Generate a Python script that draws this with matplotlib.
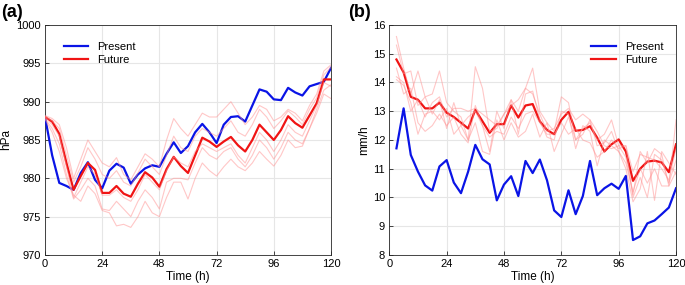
import matplotlib
matplotlib.use('Agg')
import matplotlib.pyplot as plt
import numpy as np

plt.rcParams['font.family'] = ['Liberation Sans', 'DejaVu Sans']
plt.rcParams['font.size'] = 8

# (a) central pressure, 3-hourly
time_a = np.arange(0, 121, 3)
pres_present = [988.0, 983.0, 979.4, 979.0, 978.5, 980.7, 982.1, 979.8, 978.7, 981.0,
                981.9, 981.4, 979.3, 980.5, 981.3, 981.7, 981.5, 983.2, 984.7, 983.3,
                984.2, 986.0, 987.1, 986.0, 984.6, 987.0, 988.0, 988.1, 987.4, 989.5,
                991.6, 991.3, 990.3, 990.2, 991.8, 991.2, 990.8, 992.0, 992.3, 992.6, 994.4]
pres_future = [988.0, 987.4, 985.8, 982.0, 978.5, 980.3, 982.0, 981.1, 978.1, 978.1,
               979.0, 978.0, 977.6, 979.3, 980.8, 980.1, 978.9, 981.2, 982.8, 981.6,
               980.7, 983.0, 985.3, 984.8, 984.1, 984.8, 985.4, 984.3, 983.5, 985.0,
               987.0, 986.0, 985.0, 986.3, 988.1, 987.2, 986.6, 988.2, 989.8, 992.9, 992.9]
pres_members = [
    [988.2, 987.8, 987.0, 984.0, 980.0, 982.5, 985.0, 983.5, 982.0, 981.5, 982.7, 980.5,
     979.8, 981.5, 983.2, 982.5, 981.5, 985.0, 987.8, 986.5, 985.5, 987.0, 988.5, 988.0,
     988.0, 989.0, 990.0, 988.5, 987.0, 988.0, 989.5, 989.0, 987.5, 988.0, 989.0, 988.5,
     987.5, 989.5, 991.0, 994.0, 994.8],
    [988.1, 987.5, 986.5, 983.0, 979.5, 981.5, 984.0, 982.5, 980.5, 980.0, 981.0, 979.5,
     979.0, 980.7, 982.5, 981.5, 980.5, 983.0, 985.5, 984.0, 983.5, 985.5, 986.5, 986.0,
     985.5, 986.5, 987.5, 986.0, 985.5, 987.0, 989.0, 988.0, 986.5, 987.5, 988.8, 988.0,
     987.0, 989.0, 990.5, 993.5, 994.5],
    [988.0, 987.0, 985.5, 981.5, 977.5, 979.5, 981.5, 980.5, 977.8, 977.8, 978.5, 977.5,
     977.0, 978.5, 980.5, 979.5, 978.5, 981.0, 982.8, 982.0, 981.5, 983.5, 984.5, 984.0,
     983.5, 984.0, 984.5, 983.0, 982.0, 984.0, 986.0, 985.0, 983.5, 985.0, 987.0, 986.0,
     985.5, 987.5, 989.5, 992.5, 992.0],
    [987.8, 986.5, 984.5, 980.5, 977.3, 978.5, 980.0, 979.0, 976.0, 975.8, 977.0, 976.0,
     975.0, 977.0, 978.5, 977.5, 976.0, 979.5, 980.0, 980.0, 979.8, 982.0, 984.0, 983.0,
     982.5, 983.5, 984.0, 982.5, 981.5, 983.0, 985.0, 984.0, 982.5, 984.0, 986.0, 985.0,
     984.5, 986.5, 989.0, 991.5, 992.2],
    [987.7, 986.0, 983.5, 980.0, 977.8, 977.0, 979.0, 978.0, 975.8, 975.5, 973.8, 974.0,
     973.6, 975.0, 977.0, 975.5, 975.0, 977.5, 979.5, 979.5, 977.3, 980.0, 982.0, 981.0,
     980.3, 981.5, 982.5, 981.5, 981.0, 982.0, 983.5, 982.5, 981.6, 983.0, 985.0, 984.0,
     984.2, 986.5, 988.5, 991.0, 990.4],
]

# (b) rain rate, 3-hourly from 3 h
time_b = np.arange(3, 121, 3)
rain_present = [11.71, 13.1, 11.48, 10.9, 10.42, 10.24, 11.08, 11.3, 10.52, 10.15,
                10.9, 11.83, 11.33, 11.15, 9.9, 10.45, 10.74, 10.05, 11.27, 10.85,
                11.32, 10.6, 9.55, 9.32, 10.25, 9.42, 10.05, 11.27, 10.08, 10.32,
                10.48, 10.3, 10.75, 8.52, 8.65, 9.1, 9.2, 9.42, 9.65, 10.32]
rain_future = [14.8, 14.35, 13.5, 13.4, 13.1, 13.1, 13.3, 12.95, 12.8, 12.6,
               12.4, 13.05, 12.65, 12.25, 12.55, 12.55, 13.2, 12.78, 13.2, 13.25,
               12.65, 12.35, 12.2, 12.7, 12.98, 12.32, 12.35, 12.48, 12.08, 11.6,
               11.85, 12.02, 11.6, 10.58, 11.0, 11.25, 11.28, 11.22, 10.88, 11.85]
rain_members = [
    [15.6, 14.5, 13.6, 14.4, 13.5, 13.6, 14.4, 13.3, 13.0, 12.8, 12.0, 14.55, 13.8, 12.3,
     12.4, 12.9, 13.4, 13.0, 13.8, 14.5, 13.0, 12.6, 12.3, 13.5, 13.3, 12.0, 12.4, 12.6,
     12.0, 12.2, 12.7, 11.8, 11.4, 10.1, 11.6, 11.2, 11.7, 11.5, 10.4, 12.7],
    [15.3, 14.3, 14.4, 13.2, 13.5, 12.9, 13.4, 12.4, 13.3, 12.5, 12.8, 13.0, 12.5, 11.6,
     13.0, 12.4, 13.4, 12.2, 13.6, 13.7, 12.7, 12.1, 12.0, 13.0, 12.9, 11.7, 12.5, 12.3,
     11.1, 12.0, 11.8, 11.6, 11.0, 9.85, 10.3, 11.6, 9.9, 11.6, 11.2, 10.8],
    [14.2, 14.0, 13.0, 13.4, 12.8, 13.3, 13.5, 12.8, 13.1, 13.1, 13.0, 13.1, 12.9, 12.7,
     12.5, 12.9, 13.2, 13.4, 13.8, 13.6, 12.9, 12.3, 12.4, 12.9, 13.1, 12.7, 12.9, 12.7,
     12.3, 11.8, 11.7, 11.8, 11.8, 10.9, 11.5, 11.4, 11.3, 11.0, 10.6, 11.7],
    [14.1, 13.9, 13.3, 12.2, 12.9, 13.0, 12.7, 13.1, 12.2, 12.5, 12.0, 12.6, 11.6, 11.5,
     12.7, 12.0, 12.6, 12.1, 12.3, 12.9, 12.1, 12.6, 11.6, 12.2, 12.8, 12.0, 12.2, 12.7,
     11.8, 11.9, 12.3, 11.6, 11.2, 10.2, 11.0, 10.5, 11.0, 10.4, 10.4, 10.9],
    [14.5, 13.6, 13.8, 12.6, 12.3, 12.5, 12.9, 12.5, 12.8, 12.2, 11.9, 13.2, 12.5, 12.1,
     12.3, 12.2, 12.8, 12.4, 12.9, 13.0, 12.6, 12.2, 12.2, 12.6, 12.2, 12.4, 12.0, 11.9,
     11.4, 11.6, 12.0, 11.7, 11.8, 10.0, 10.7, 10.0, 11.5, 11.3, 10.5, 11.3],
]

xticks = [0, 24, 48, 72, 96, 120]

fig = plt.figure(figsize=(6.85, 2.85), dpi=100)
ax1 = fig.add_axes([0.0657, 0.1053, 0.4175, 0.807])
ax2 = fig.add_axes([0.5683, 0.1053, 0.4186, 0.807])


def style_axes(ax):
    ax.grid(True, color='#e6e6e6', linewidth=0.8)
    ax.set_axisbelow(True)
    for sp in ax.spines.values():
        sp.set_color('#262626')
        sp.set_linewidth(0.6)
    ax.tick_params(direction='in', length=3, width=0.6, colors='#262626',
                   labelcolor='black', labelsize=8, pad=3)
    ax.set_xticks(xticks)
    ax.set_xlim(0, 120)
    ax.set_xlabel('Time (h)', fontsize=8.5, labelpad=1)


# panel (a)
ax1.plot(time_a, pres_present, color='#0a14e6', lw=1.6, label='Present', zorder=3)
ax1.plot(time_a, pres_future, color='#f01414', lw=1.6, label='Future', zorder=3)
for m in pres_members:
    ax1.plot(time_a, m, color='#ff9090', lw=0.8, alpha=0.5, zorder=4)
ax1.set_ylim(970, 1000)
ax1.set_yticks(np.arange(970, 1001, 5))
ax1.set_ylabel('hPa', fontsize=8.5, labelpad=3)
style_axes(ax1)
ax1.legend(loc='upper left', bbox_to_anchor=(0.03, 0.97), frameon=False,
           fontsize=8, handlelength=2.2, handletextpad=0.8, labelspacing=0.3)
fig.text(0.002, 0.94, '(a)', fontsize=13, fontweight='bold')

# panel (b)
ax2.plot(time_b, rain_present, color='#0a14e6', lw=1.6, label='Present', zorder=3)
ax2.plot(time_b, rain_future, color='#f01414', lw=1.6, label='Future', zorder=3)
for m in rain_members:
    ax2.plot(time_b, m, color='#ff9090', lw=0.8, alpha=0.5, zorder=4)
ax2.set_ylim(8, 16)
ax2.set_yticks(np.arange(8, 17, 1))
ax2.set_ylabel('mm/h', fontsize=8.5, labelpad=2)
style_axes(ax2)
ax2.legend(loc='upper right', bbox_to_anchor=(0.99, 0.97), frameon=False,
           fontsize=8, handlelength=2.2, handletextpad=0.8, labelspacing=0.3)
fig.text(0.508, 0.94, '(b)', fontsize=13, fontweight='bold')

fig.savefig('out.png', dpi=100)
